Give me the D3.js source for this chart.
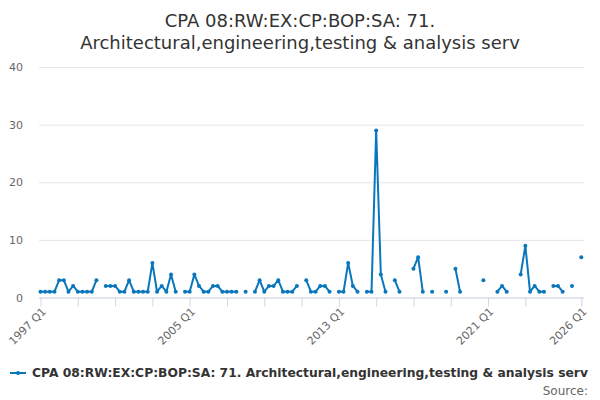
<!doctype html>
<html>
<head>
    <script src="https://d3js.org/d3.v7.min.js"></script>
    <style>
        body { margin: 0; background: #fff; }
        text { font-family: "DejaVu Sans", sans-serif; }
    </style>
</head>
<body>
<svg width="600" height="400" id="chart"></svg>
<script>
    // data
    var startYear = 1997;
    var values = [1,1,1,1,3,3,1,2,1,1,1,1,3,null,
        2,2,2,1,1,3,1,1,1,1,6,1,2,1,4,1,null,
        1,1,4,2,1,1,2,2,1,1,1,1,null,1,null,
        1,3,1,2,2,3,1,1,1,2,null,3,1,1,2,2,1,null,
        1,1,6,2,1,null,1,1,29,4,1,null,3,1,null,null,
        5,7,1,null,1,null,null,1,null,5,1,null,null,null,null,
        3,null,null,1,2,1,null,null,4,9,1,2,1,1,null,
        2,2,1,null,2,null,7];
    var yTicks = [0, 10, 20, 30, 40];
    var xTickIdx = [0,8,16,24,32,40,48,56,64,72,80,88,96,104,116];
    var xLabelIdx = [0, 32, 64, 96, 116];
    var seriesName = "CPA 08:RW:EX:CP:BOP:SA: 71. Architectural,engineering,testing & analysis serv";

    var quarters = values.map(function (v, i) {
        return (startYear + Math.floor(i / 4)) + " Q" + (i % 4 + 1);
    });

    var svg = d3.select("#chart");
    var blue = "#0a77bd";

    var x = d3.scaleLinear().domain([0, quarters.length - 1]).range([40.5, 581.3]);
    var y = d3.scaleLinear().domain([0, 40]).range([297.5, 67]);

    // Title
    svg.append("text").attr("x", 300).attr("y", 27)
        .attr("text-anchor", "middle").style("font-size", "18px").style("fill", "#333")
        .text("CPA 08:RW:EX:CP:BOP:SA: 71.");
    svg.append("text").attr("x", 300).attr("y", 49)
        .attr("text-anchor", "middle").style("font-size", "18px").style("fill", "#333")
        .text("Architectural,engineering,testing & analysis serv");

    // grid lines + y labels
    var yAxis = svg.append("g").attr("transform", "translate(39,0)")
        .call(d3.axisLeft(y).tickValues(yTicks).tickSize(-545).tickPadding(16));
    yAxis.select(".domain").remove();
    yAxis.selectAll("line").attr("stroke", "#e6e6e6");
    yAxis.selectAll("text").style("font-size", "11px").style("fill", "#666")
        .style("font-family", "DejaVu Sans").attr("dy", "0.32em");

    // x axis
    var xAxis = svg.append("g").attr("transform", "translate(0,297.5)")
        .call(d3.axisBottom(x).tickValues(xTickIdx).tickSize(9).tickSizeOuter(0)
            .tickFormat(function (d) { return xLabelIdx.indexOf(d) >= 0 ? quarters[d] : ""; }));
    xAxis.select(".domain").attr("stroke", "#ccd6eb").attr("d", "M39,0.5H584");
    xAxis.selectAll("line").attr("stroke", "#ccd6eb");
    xAxis.selectAll("text")
        .style("font-size", "11px").style("fill", "#666").style("font-family", "DejaVu Sans")
        .attr("text-anchor", "end")
        .attr("transform", "translate(3,12) rotate(-45)")
        .attr("y", 0).attr("dy", "0.35em");

    // line
    var line = d3.line()
        .defined(function (d) { return d != null; })
        .x(function (d, i) { return x(i); })
        .y(function (d) { return y(d); });

    svg.append("path").datum(values)
        .attr("d", line)
        .attr("fill", "none")
        .attr("stroke", blue)
        .attr("stroke-width", 2)
        .attr("stroke-linejoin", "round");

    svg.append("g").selectAll("circle")
        .data(values.map(function (v, i) { return { i: i, v: v }; })
            .filter(function (d) { return d.v != null; }))
        .enter().append("circle")
        .attr("cx", function (d) { return x(d.i); })
        .attr("cy", function (d) { return y(d.v); })
        .attr("r", 2)
        .style("fill", blue);

    // legend
    svg.append("line").attr("x1", 10).attr("x2", 26).attr("y1", 373).attr("y2", 373)
        .attr("stroke", blue).attr("stroke-width", 2);
    svg.append("circle").attr("cx", 18).attr("cy", 373).attr("r", 2).style("fill", blue);
    svg.append("text").attr("x", 32).attr("y", 377)
        .style("font-size", "12.3px").style("font-weight", "bold").style("fill", "#333")
        .text(seriesName);

    svg.append("text").attr("x", 588).attr("y", 395).attr("text-anchor", "end")
        .style("font-size", "12px").style("fill", "#666")
        .text("Source:");
</script>
</body>
</html>
